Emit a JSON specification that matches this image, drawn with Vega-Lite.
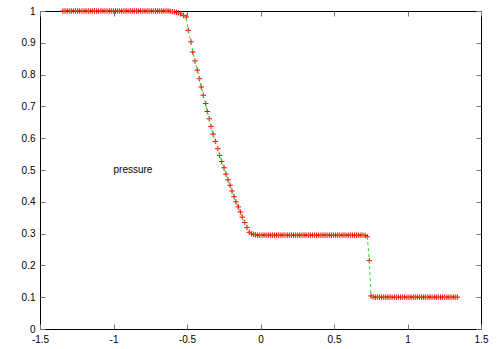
{
  "$schema": "https://vega.github.io/schema/vega-lite/v6.json",
  "width": 441,
  "height": 318,
  "autosize": {"type": "none"},
  "padding": {"left": 40, "top": 11, "right": 17, "bottom": 20},
  "background": "white",
  "config": {
    "view": {"stroke": "#000000", "strokeWidth": 1},
    "axis": {
      "labelFont": "Liberation Sans",
      "labelFontSize": 10,
      "labelColor": "#000000",
      "domain": false,
      "grid": false,
      "tickColor": "#777777",
      "tickSize": -5,
      "title": null
    }
  },
  "datasets": {
    "sim": [
      {"x": -1.344, "p": 1.0}, {"x": -1.330, "p": 1.0}, {"x": -1.315, "p": 1.0}, {"x": -1.301, "p": 1.0},
      {"x": -1.287, "p": 1.0}, {"x": -1.273, "p": 1.0}, {"x": -1.258, "p": 1.0}, {"x": -1.244, "p": 1.0},
      {"x": -1.230, "p": 1.0}, {"x": -1.215, "p": 1.0}, {"x": -1.201, "p": 1.0}, {"x": -1.187, "p": 1.0},
      {"x": -1.172, "p": 1.0}, {"x": -1.158, "p": 1.0}, {"x": -1.144, "p": 1.0}, {"x": -1.129, "p": 1.0},
      {"x": -1.115, "p": 1.0}, {"x": -1.101, "p": 1.0}, {"x": -1.086, "p": 1.0}, {"x": -1.072, "p": 1.0},
      {"x": -1.058, "p": 1.0}, {"x": -1.044, "p": 1.0}, {"x": -1.029, "p": 1.0}, {"x": -1.015, "p": 1.0},
      {"x": -1.001, "p": 1.0}, {"x": -0.986, "p": 1.0}, {"x": -0.972, "p": 1.0}, {"x": -0.958, "p": 1.0},
      {"x": -0.944, "p": 1.0}, {"x": -0.929, "p": 1.0}, {"x": -0.915, "p": 1.0}, {"x": -0.901, "p": 1.0},
      {"x": -0.886, "p": 1.0}, {"x": -0.872, "p": 1.0}, {"x": -0.858, "p": 1.0}, {"x": -0.843, "p": 1.0},
      {"x": -0.829, "p": 1.0}, {"x": -0.815, "p": 1.0}, {"x": -0.800, "p": 1.0}, {"x": -0.786, "p": 1.0},
      {"x": -0.772, "p": 1.0}, {"x": -0.758, "p": 1.0}, {"x": -0.743, "p": 1.0}, {"x": -0.729, "p": 1.0},
      {"x": -0.715, "p": 1.0}, {"x": -0.700, "p": 1.0}, {"x": -0.686, "p": 1.0}, {"x": -0.672, "p": 1.0},
      {"x": -0.657, "p": 1.0}, {"x": -0.643, "p": 1.0}, {"x": -0.629, "p": 1.0}, {"x": -0.615, "p": 0.999},
      {"x": -0.600, "p": 0.998}, {"x": -0.586, "p": 0.997}, {"x": -0.572, "p": 0.996},
      {"x": -0.559, "p": 0.994}, {"x": -0.543, "p": 0.991}, {"x": -0.525, "p": 0.986}, {"x": -0.505, "p": 0.981},
      {"x": -0.491, "p": 0.939}, {"x": -0.473, "p": 0.903}, {"x": -0.461, "p": 0.871}, {"x": -0.446, "p": 0.843},
      {"x": -0.430, "p": 0.814}, {"x": -0.416, "p": 0.787}, {"x": -0.403, "p": 0.761}, {"x": -0.389, "p": 0.735},
      {"x": -0.373, "p": 0.709}, {"x": -0.362, "p": 0.684}, {"x": -0.349, "p": 0.661}, {"x": -0.337, "p": 0.637},
      {"x": -0.323, "p": 0.613}, {"x": -0.307, "p": 0.590}, {"x": -0.291, "p": 0.567}, {"x": -0.278, "p": 0.546},
      {"x": -0.264, "p": 0.527}, {"x": -0.248, "p": 0.507}, {"x": -0.235, "p": 0.487}, {"x": -0.221, "p": 0.469},
      {"x": -0.207, "p": 0.452}, {"x": -0.194, "p": 0.434}, {"x": -0.180, "p": 0.416}, {"x": -0.167, "p": 0.400},
      {"x": -0.151, "p": 0.384}, {"x": -0.137, "p": 0.368}, {"x": -0.124, "p": 0.352}, {"x": -0.107, "p": 0.335},
      {"x": -0.092, "p": 0.319}, {"x": -0.076, "p": 0.304}, {"x": -0.060, "p": 0.299}, {"x": -0.046, "p": 0.297},
      {"x": -0.033, "p": 0.296}, {"x": -0.019, "p": 0.295},
      {"x": -0.005, "p": 0.295}, {"x": 0.010, "p": 0.295}, {"x": 0.024, "p": 0.295}, {"x": 0.038, "p": 0.295},
      {"x": 0.053, "p": 0.295}, {"x": 0.067, "p": 0.295}, {"x": 0.081, "p": 0.295}, {"x": 0.096, "p": 0.295},
      {"x": 0.110, "p": 0.295}, {"x": 0.124, "p": 0.295}, {"x": 0.139, "p": 0.295}, {"x": 0.153, "p": 0.295},
      {"x": 0.167, "p": 0.295}, {"x": 0.182, "p": 0.295}, {"x": 0.196, "p": 0.295}, {"x": 0.210, "p": 0.295},
      {"x": 0.224, "p": 0.295}, {"x": 0.239, "p": 0.295}, {"x": 0.253, "p": 0.295}, {"x": 0.267, "p": 0.295},
      {"x": 0.282, "p": 0.295}, {"x": 0.296, "p": 0.295}, {"x": 0.310, "p": 0.295}, {"x": 0.325, "p": 0.295},
      {"x": 0.339, "p": 0.295}, {"x": 0.353, "p": 0.295}, {"x": 0.368, "p": 0.295}, {"x": 0.382, "p": 0.295},
      {"x": 0.396, "p": 0.295}, {"x": 0.411, "p": 0.295}, {"x": 0.425, "p": 0.295}, {"x": 0.439, "p": 0.295},
      {"x": 0.453, "p": 0.295}, {"x": 0.468, "p": 0.295}, {"x": 0.482, "p": 0.295}, {"x": 0.496, "p": 0.295},
      {"x": 0.511, "p": 0.295}, {"x": 0.525, "p": 0.295}, {"x": 0.539, "p": 0.295}, {"x": 0.554, "p": 0.295},
      {"x": 0.568, "p": 0.295}, {"x": 0.582, "p": 0.295}, {"x": 0.597, "p": 0.295}, {"x": 0.611, "p": 0.295},
      {"x": 0.625, "p": 0.295}, {"x": 0.640, "p": 0.295}, {"x": 0.654, "p": 0.295}, {"x": 0.668, "p": 0.295},
      {"x": 0.683, "p": 0.295}, {"x": 0.697, "p": 0.295}, {"x": 0.712, "p": 0.294},
      {"x": 0.727, "p": 0.290}, {"x": 0.740, "p": 0.215}, {"x": 0.752, "p": 0.104},
      {"x": 0.766, "p": 0.101}, {"x": 0.781, "p": 0.1}, {"x": 0.795, "p": 0.1}, {"x": 0.809, "p": 0.1},
      {"x": 0.824, "p": 0.1}, {"x": 0.838, "p": 0.1}, {"x": 0.852, "p": 0.1}, {"x": 0.867, "p": 0.1},
      {"x": 0.881, "p": 0.1}, {"x": 0.895, "p": 0.1}, {"x": 0.910, "p": 0.1}, {"x": 0.924, "p": 0.1},
      {"x": 0.938, "p": 0.1}, {"x": 0.953, "p": 0.1}, {"x": 0.967, "p": 0.1}, {"x": 0.981, "p": 0.1},
      {"x": 0.996, "p": 0.1}, {"x": 1.010, "p": 0.1}, {"x": 1.024, "p": 0.1}, {"x": 1.039, "p": 0.1},
      {"x": 1.053, "p": 0.1}, {"x": 1.067, "p": 0.1}, {"x": 1.082, "p": 0.1}, {"x": 1.096, "p": 0.1},
      {"x": 1.110, "p": 0.1}, {"x": 1.124, "p": 0.1}, {"x": 1.139, "p": 0.1}, {"x": 1.153, "p": 0.1},
      {"x": 1.167, "p": 0.1}, {"x": 1.182, "p": 0.1}, {"x": 1.196, "p": 0.1}, {"x": 1.210, "p": 0.1},
      {"x": 1.225, "p": 0.1}, {"x": 1.239, "p": 0.1}, {"x": 1.253, "p": 0.1}, {"x": 1.268, "p": 0.1},
      {"x": 1.282, "p": 0.1}, {"x": 1.296, "p": 0.1}, {"x": 1.311, "p": 0.1}, {"x": 1.325, "p": 0.1},
      {"x": 1.339, "p": 0.1}
    ],
    "lbl": [{"x": -1.0, "p": 0.5, "label": "pressure"}]
  },
  "layer": [
    {
      "data": {"name": "sim"},
      "mark": {"type": "point", "shape": "M-1,0L1,0M0,-1L0,1", "filled": false, "stroke": "#ff0000", "strokeWidth": 1, "size": 30, "opacity": 1},
      "encoding": {
        "x": {"field": "x", "type": "quantitative", "scale": {"domain": [-1.5, 1.5], "nice": false, "zero": false},
              "axis": {"orient": "bottom", "values": [-1.5, -1, -0.5, 0, 0.5, 1, 1.5], "labelExpr": "'' + datum.value", "labelPadding": 10, "labelFlush": false}},
        "y": {"field": "p", "type": "quantitative", "scale": {"domain": [0, 1], "nice": false},
              "axis": {"orient": "left", "values": [0, 0.1, 0.2, 0.3, 0.4, 0.5, 0.6, 0.7, 0.8, 0.9, 1], "labelExpr": "'' + datum.value", "labelPadding": 10, "labelFlush": false}}
      }
    },
    {
      "data": {"name": "sim"},
      "mark": {"type": "line", "stroke": "#22dd22", "strokeWidth": 1, "strokeDash": [3, 3]},
      "encoding": {
        "x": {"field": "x", "type": "quantitative",
              "axis": {"orient": "top", "values": [-1.5, -1, -0.5, 0, 0.5, 1, 1.5], "labels": false}},
        "y": {"field": "p", "type": "quantitative",
              "axis": {"orient": "right", "values": [0, 0.1, 0.2, 0.3, 0.4, 0.5, 0.6, 0.7, 0.8, 0.9, 1], "labels": false}}
      }
    },
    {
      "data": {"name": "lbl"},
      "mark": {"type": "text", "align": "left", "baseline": "middle", "font": "Liberation Sans", "fontSize": 10, "color": "#000000"},
      "encoding": {
        "x": {"field": "x", "type": "quantitative", "axis": null},
        "y": {"field": "p", "type": "quantitative", "axis": null},
        "text": {"field": "label"}
      }
    }
  ],
  "resolve": {"axis": {"x": "independent", "y": "independent"}}
}
